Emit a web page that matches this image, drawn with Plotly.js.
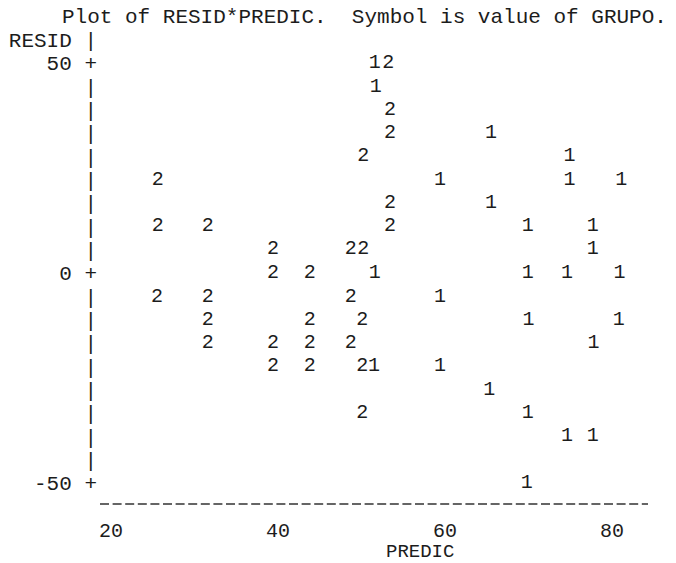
<!DOCTYPE html>
<html>
<head>
<meta charset="utf-8">
<script src="https://cdn.plot.ly/plotly-3.0.1.min.js"></script>
<style>html,body{margin:0;padding:0;background:#fff;}#chart{width:676px;height:563px;}</style>
</head>
<body>
<div id="chart"></div>
<script>
// Group 1 points (PREDIC, RESID)
const g1Predic = [51.6, 51.7, 65.5, 74.9, 59.4, 74.9, 81.1, 65.5, 69.9, 77.7, 77.7, 51.6, 69.9, 74.6, 80.9, 59.4, 70.0, 80.8, 77.8, 51.5, 59.4, 65.3, 69.9, 74.6, 77.7, 69.8];
const g1Resid  = [50.0, 44.4, 33.3, 27.8, 22.2, 22.2, 22.2, 16.7, 11.1, 11.1, 5.6, 0, 0, 0, 0, -5.6, -11.1, -11.1, -16.7, -22.2, -22.2, -27.8, -33.3, -38.9, -38.9, -50.0];
// Group 2 points (PREDIC, RESID)
const g2Predic = [53.2, 53.4, 53.4, 50.2, 25.6, 53.4, 25.6, 31.6, 53.4, 39.4, 48.7, 50.2, 39.4, 43.8, 25.5, 31.6, 48.7, 31.6, 43.8, 50.1, 31.6, 39.4, 43.8, 48.7, 39.4, 43.8, 50.1, 50.1];
const g2Resid  = [50.0, 38.9, 33.3, 27.8, 22.2, 16.7, 11.1, 11.1, 11.1, 5.6, 5.6, 5.6, 0, 0, -5.6, -5.6, -5.6, -11.1, -11.1, -11.1, -16.7, -16.7, -16.7, -16.7, -22.2, -22.2, -22.2, -33.3];
// Axis tick values / labels
const xTickVals = [20, 40, 60, 80];
const xTickText = ["20", "40", "60", "80"];
const yRowVals = [55.56, 50, 44.44, 38.89, 33.33, 27.78, 22.22, 16.67, 11.11, 5.56, 0, -5.56, -11.11, -16.67, -22.22, -27.78, -33.33, -38.89, -44.44, -50];
const yRowText = ["RESID |", "50 +", "|", "|", "|", "|", "|", "|", "|", "|", "0 +", "|", "|", "|", "|", "|", "|", "|", "|", "-50 +"];

const MONO = "'Courier New', 'Liberation Mono', 'DejaVu Sans Mono', monospace";
const INK = "#1c1c1c";

const traces = [
  {x: g1Predic, y: g1Resid, mode: "text", text: g1Predic.map(() => "1"), textposition: "middle center",
   textfont: {family: MONO, size: 20, color: INK}, hoverinfo: "skip", showlegend: false},
  {x: g2Predic, y: g2Resid, mode: "text", text: g2Predic.map(() => "2"), textposition: "middle center",
   textfont: {family: MONO, size: 20, color: INK}, hoverinfo: "skip", showlegend: false}
];

const layout = {
  width: 676, height: 563,
  paper_bgcolor: "#ffffff", plot_bgcolor: "#ffffff",
  margin: {l: 98, r: 21, t: 21, b: 59},
  showlegend: false,
  title: {text: "Plot of RESID*PREDIC.\u00a0\u00a0Symbol is value of GRUPO.",
          font: {family: MONO, size: 21, color: INK},
          x: 62/676, xanchor: "left", xref: "container",
          y: 1 - 16/563, yanchor: "middle", yref: "container"},
  xaxis: {range: [18.44, 85.15], tickvals: xTickVals, ticktext: xTickText,
          showgrid: false, zeroline: false, showline: false, ticks: "",
          tickfont: {family: MONO, size: 20, color: INK}, ticklabelstandoff: 12},
  yaxis: {range: [-55, 60], tickvals: yRowVals, ticktext: yRowText,
          showgrid: false, zeroline: false, showline: false, ticks: "",
          tickfont: {family: MONO, size: 21, color: INK}},
  shapes: [{type: "line", xref: "paper", yref: "paper", x0: 2/557, x1: 550/557, y0: 0, y1: 0,
            line: {color: "#333", width: 1.6, dash: "9px,3.6px"}}],
  annotations: [{text: "PREDIC", xref: "paper", yref: "paper", x: (420-98)/557, y: -48/483,
                 xanchor: "center", yanchor: "middle", showarrow: false,
                 font: {family: MONO, size: 19, color: INK}}]
};

Plotly.newPlot("chart", traces, layout, {staticPlot: true, displayModeBar: false});
</script>
</body>
</html>
